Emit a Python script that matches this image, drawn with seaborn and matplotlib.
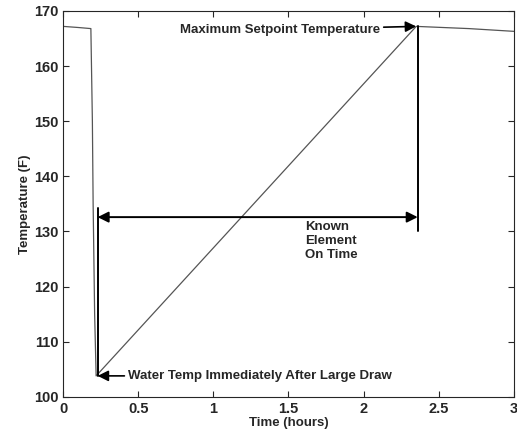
import matplotlib
matplotlib.use("Agg")
import matplotlib.pyplot as plt
import seaborn as sns
import pandas as pd

# temperature trace
time_h = [0.0, 0.10, 0.185, 0.195, 0.20, 0.21, 0.22, 2.35, 2.70, 3.0]
temp_f = [167.2, 167.0, 166.8, 150.0, 135.0, 115.0, 103.8, 167.2, 166.8, 166.3]

x_ticks = [0, 0.5, 1, 1.5, 2, 2.5, 3]
y_ticks = [100, 110, 120, 130, 140, 150, 160, 170]

draw_t, draw_temp = 0.22, 103.8
peak_t, peak_temp = 2.35, 167.2
on_arrow_y = 132.6

df = pd.DataFrame({"Time (hours)": time_h, "Temperature (F)": temp_f})

sns.set_style("ticks")
plt.rcParams["font.family"] = ["Liberation Sans", "DejaVu Sans"]

fig = plt.figure(figsize=(5.17, 4.38), dpi=100)
ax = fig.add_axes([0.122, 0.094, 0.872, 0.881])

sns.lineplot(data=df, x="Time (hours)", y="Temperature (F)", ax=ax,
             color="#555555", linewidth=0.9, estimator=None, sort=False)

# markers of the heating interval
ax.plot([draw_t + 0.01, draw_t + 0.01], [draw_temp, 134.3], color="black", lw=1.4)
ax.plot([peak_t + 0.01, peak_t + 0.01], [130.0, peak_temp], color="black", lw=1.4)
ax.annotate("", xy=(draw_t + 0.01, on_arrow_y), xytext=(peak_t + 0.01, on_arrow_y),
            arrowprops=dict(arrowstyle="<|-|>", color="black", lw=1.4,
                            mutation_scale=16, shrinkA=0, shrinkB=0))
ax.text(1.61, 131.9, "Known\nElement\nOn Time", fontsize=9.5, va="top", ha="left",
        fontweight="bold", linespacing=1.25)

ax.annotate("Maximum Setpoint Temperature", xy=(peak_t, peak_temp), xytext=(0.78, 166.6),
            fontsize=9.5, fontweight="bold", va="center", ha="left",
            arrowprops=dict(arrowstyle="-|>", color="black", lw=1.2,
                            mutation_scale=16, shrinkA=0, shrinkB=0))
ax.annotate("Water Temp Immediately After Large Draw", xy=(draw_t + 0.01, draw_temp),
            xytext=(0.43, draw_temp), fontsize=9.5, fontweight="bold", va="center", ha="left",
            arrowprops=dict(arrowstyle="-|>", color="black", lw=1.2,
                            mutation_scale=16, shrinkA=0, shrinkB=0))

ax.set_xlim(0, 3)
ax.set_ylim(100, 170)
ax.set_xticks(x_ticks)
ax.set_xticklabels(["0", "0.5", "1", "1.5", "2", "2.5", "3"])
ax.set_yticks(y_ticks)
ax.tick_params(direction="in", top=True, right=True, labelsize=10.5, length=4,
               width=0.8)
for lab in ax.get_xticklabels() + ax.get_yticklabels():
    lab.set_fontweight("bold")
for s in ax.spines.values():
    s.set_visible(True)
    s.set_linewidth(0.8)
ax.set_xlabel("Time (hours)", fontsize=9.5, fontweight="bold", labelpad=1)
ax.set_ylabel("Temperature (F)", fontsize=9.5, fontweight="bold", labelpad=2)

fig.savefig("out.png", dpi=100)
